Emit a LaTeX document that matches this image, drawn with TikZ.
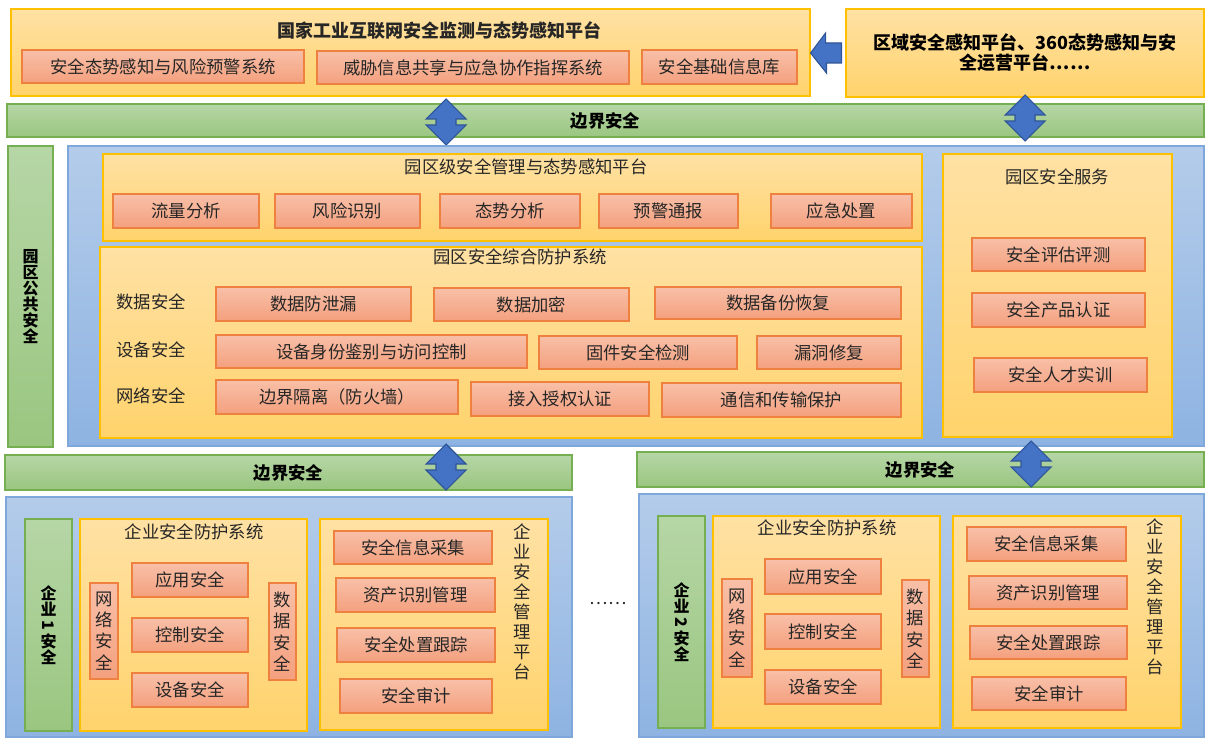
\documentclass[tikz,border=0pt]{standalone}
\usepackage{fontspec}
\setmainfont{Noto Sans CJK SC}
\usepackage{tikz}
\usetikzlibrary{positioning,calc}

\definecolor{goldtop}{HTML}{FFE1A4}
\definecolor{goldbot}{HTML}{FFD36C}
\definecolor{goldline}{HTML}{FFC000}
\definecolor{orgtop}{HTML}{F8C0A8}
\definecolor{orgbot}{HTML}{F4A07E}
\definecolor{orgline}{HTML}{EE8040}
\definecolor{grntop}{HTML}{B6D6A6}
\definecolor{grnbot}{HTML}{9AC680}
\definecolor{grnline}{HTML}{76AF52}
\definecolor{blutop}{HTML}{B4CCEA}
\definecolor{blubot}{HTML}{8EB3E2}
\definecolor{bluline}{HTML}{7EA8DC}
\definecolor{arrfill}{HTML}{4472C4}
\definecolor{arrline}{HTML}{2F5597}

\tikzset{
  % box=x1/y1/x2/y2, corners in pixels of the picture
  box/.style args={#1/#2/#3/#4}{at={({(#1+#3)/2},{(#2+#4)/2})},
    minimum width={(#3-#1)*0.75pt}, minimum height={(#4-#2)*0.75pt}},
  plat/.style={draw=goldline, top color=goldtop, bottom color=goldbot, inner sep=0pt, line width=0.8pt},
  item/.style={draw=orgline, top color=orgtop, bottom color=orgbot, inner sep=0pt, line width=0.8pt, text=black!85},
  band/.style={draw=grnline, top color=grntop, bottom color=grnbot, inner sep=0pt, line width=0.8pt, font=\fontsize{13}{15}\selectfont\bfseries},
  zone/.style={draw=bluline, top color=blutop, bottom color=blubot, inner sep=0pt, line width=0.8pt},
  ttl/.style={inner sep=0pt, text=black!85},
  vtext/.style={align=center, font=\fontsize{13}{16}\selectfont},
  vbold/.style={align=center, font=\fontsize{12}{12}\selectfont\bfseries},
  blk/.style={draw=arrline, fill=arrfill, line width=0.8pt},
  udarrow/.pic={
    \draw[blk] (0,0) -- ++(20,20) -- ++(-10,0) -- ++(0,6) -- ++(10,0) -- ++(-20,20)
      -- ++(-20,-20) -- ++(10,0) -- ++(0,-6) -- ++(-10,0) -- cycle;
  }
}

\begin{document}
\begin{tikzpicture}[x=0.75pt, y=-0.75pt, font=\fontsize{13}{15}\selectfont]
\useasboundingbox (0,0) rectangle (1205,738);

% national level
\node[plat, box=11/9/810/96] (nat) {};
\node[ttl, font=\fontsize{13.5}{16}\selectfont\bfseries] (nat-t) at (439,31) {国家工业互联网安全监测与态势感知平台};
\node[item, box=22/50/304/83] (nat1) {安全态势感知与风险预警系统};
\node[item, box=317/51/629/84] (nat2) {威胁信息共享与应急协作指挥系统};
\node[item, box=642/50/797/84] (nat3) {安全基础信息库};
\node[plat, box=846/9/1204/97, align=center, font=\fontsize{13.5}{15}\selectfont\bfseries] (region) {区域安全感知平台、360态势感知与安\\全运营平台……};
\draw[blk] (nat.east |- region) -- ++(15,-20) -- ++(0,10) -- ($(region.west)+(-4,-10)$)
  -- ++(0,20) -- ++(-15,0) -- ++(0,10) -- cycle;

% border 1
\node[band, box=7/104/1204/137] (band1) {边界安全};
\pic at (446,99) {udarrow};
\pic at (1025,95) {udarrow};

% park level
\node[band, box=8/146/53/447, vbold] (pub) {园\\区\\公\\共\\安\\全};
\node[zone, box=68/146/1204/446] (park) {};

\node[plat, box=103/154/922/241] (pmgmt) {};
\node[ttl] (pmgmt-t) at (526,167) {园区级安全管理与态势感知平台};
\node[item, box=113/194/259/228] (p1) {流量分析};
\node[item, box=275/194/420/228] (p2) {风险识别};
\node[item, box=440/194/580/228] (p3) {态势分析};
\node[item, box=599/194/738/228] (p4) {预警通报};
\node[item, box=771/194/912/228] (p5) {应急处置};

\node[plat, box=100/247/922/438] (pprot) {};
\node[ttl] (pprot-t) at (520,257) {园区安全综合防护系统};
\node[ttl] (row1) at (151,302) {数据安全};
\node[ttl] (row2) at (151,350) {设备安全};
\node[ttl] (row3) at (151,396) {网络安全};
\node[item, box=216/287/411/321] (d1) {数据防泄漏};
\node[item, box=434/288/629/321] (d2) {数据加密};
\node[item, box=655/287/901/319] (d3) {数据备份恢复};
\node[item, box=216/335/527/368] (e1) {设备身份鉴别与访问控制};
\node[item, box=539/336/737/369] (e2) {固件安全检测};
\node[item, box=757/336/901/369] (e3) {漏洞修复};
\node[item, box=216/380/458/414] (n1) {边界隔离（防火墙）};
\node[item, box=471/382/649/416] (n2) {接入授权认证};
\node[item, box=662/383/901/417] (n3) {通信和传输保护};

\node[plat, box=943/154/1172/437] (psrv) {};
\node[ttl] (psrv-t) at (1057,177) {园区安全服务};
\node[item, box=972/238/1145/271] (s1) {安全评估评测};
\node[item, box=972/293/1145/327] (s2) {安全产品认证};
\node[item, box=974/358/1147/392] (s3) {安全人才实训};

% border 2
\node[band, box=5/455/572/490] (band2) {边界安全};
\node[band, box=637/452/1204/487] (band3) {边界安全};
\pic at (446,444) {udarrow};
\pic at (1031,441) {udarrow};

% enterprise 1
\node[zone, box=6/497/572/737] (ent1) {};
\node[band, box=25/519/72/731, vbold] (ent1-g) {企\\业\\\rotatebox[origin=c]{-90}{1}\\安\\全};
\node[plat, box=80/519/307/731] (ent1-p) {};
\node[ttl] (ent1-pt) at (194,532) {企业安全防护系统};
\node[item, box=132/563/248/597] (a1) {应用安全};
\node[item, box=132/618/248/652] (a2) {控制安全};
\node[item, box=132/673/248/707] (a3) {设备安全};
\node[item, box=90/583/118/679, vtext] (a4) {网\\络\\安\\全};
\node[item, box=269/583/296/680, vtext] (a5) {数\\据\\安\\全};
\node[plat, box=320/519/548/730] (ent1-m) {};
\node[ttl, align=center] (ent1-mt) at (522,602) {企\\业\\安\\全\\管\\理\\平\\台};
\node[item, box=334/531/492/564] (m1) {安全信息采集};
\node[item, box=336/578/495/612] (m2) {资产识别管理};
\node[item, box=337/628/495/662] (m3) {安全处置跟踪};
\node[item, box=340/679/492/713] (m4) {安全审计};

\node[ttl] (more) at (608,604) {……};

% enterprise 2
\node[zone, box=639/494/1204/737] (ent2) {};
\node[band, box=658/516/705/728, vbold] (ent2-g) {企\\业\\\rotatebox[origin=c]{-90}{2}\\安\\全};
\node[plat, box=713/516/940/728] (ent2-p) {};
\node[ttl] (ent2-pt) at (827,528) {企业安全防护系统};
\node[item, box=765/559/881/594] (b1) {应用安全};
\node[item, box=765/614/881/649] (b2) {控制安全};
\node[item, box=765/670/881/704] (b3) {设备安全};
\node[item, box=722/579/752/677, vtext] (b4) {网\\络\\安\\全};
\node[item, box=902/580/929/677, vtext] (b5) {数\\据\\安\\全};
\node[plat, box=953/516/1181/728] (ent2-m) {};
\node[ttl, align=center] (ent2-mt) at (1155,597) {企\\业\\安\\全\\管\\理\\平\\台};
\node[item, box=967/527/1126/561] (q1) {安全信息采集};
\node[item, box=969/576/1127/609] (q2) {资产识别管理};
\node[item, box=970/626/1127/659] (q3) {安全处置跟踪};
\node[item, box=972/677/1126/710] (q4) {安全审计};
\end{tikzpicture}
\end{document}
